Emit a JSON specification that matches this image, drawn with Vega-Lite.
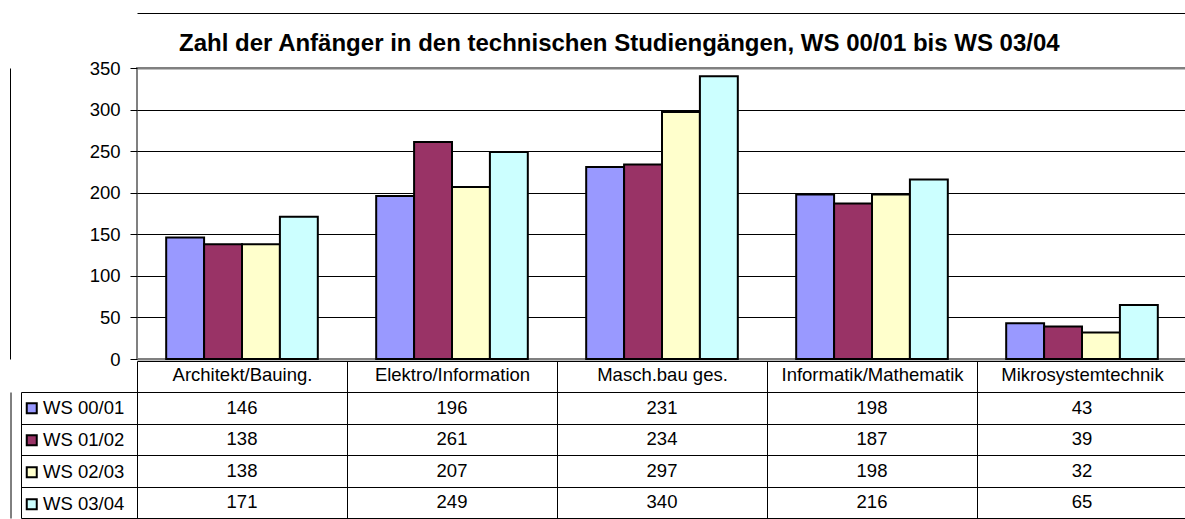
{
  "$schema": "https://vega.github.io/schema/vega-lite/v6.json",
  "autosize": {"type": "pad"},
  "padding": {"left": 9, "top": 12, "right": 0, "bottom": 2},
  "background": "white",
  "bounds": "flush",
  "spacing": 33,
  "config": {
    "font": "Liberation Sans",
    "view": {"stroke": null},
    "axis": {"labelFont": "Liberation Sans", "labelColor": "black"},
    "legend": {"labelFont": "Liberation Sans"}
  },
  "data": {
    "values": [
      {"cat": "Architekt/Bauing.", "series": "WS 00/01", "value": 146},
      {"cat": "Architekt/Bauing.", "series": "WS 01/02", "value": 138},
      {"cat": "Architekt/Bauing.", "series": "WS 02/03", "value": 138},
      {"cat": "Architekt/Bauing.", "series": "WS 03/04", "value": 171},
      {"cat": "Elektro/Information", "series": "WS 00/01", "value": 196},
      {"cat": "Elektro/Information", "series": "WS 01/02", "value": 261},
      {"cat": "Elektro/Information", "series": "WS 02/03", "value": 207},
      {"cat": "Elektro/Information", "series": "WS 03/04", "value": 249},
      {"cat": "Masch.bau ges.", "series": "WS 00/01", "value": 231},
      {"cat": "Masch.bau ges.", "series": "WS 01/02", "value": 234},
      {"cat": "Masch.bau ges.", "series": "WS 02/03", "value": 297},
      {"cat": "Masch.bau ges.", "series": "WS 03/04", "value": 340},
      {"cat": "Informatik/Mathematik", "series": "WS 00/01", "value": 198},
      {"cat": "Informatik/Mathematik", "series": "WS 01/02", "value": 187},
      {"cat": "Informatik/Mathematik", "series": "WS 02/03", "value": 198},
      {"cat": "Informatik/Mathematik", "series": "WS 03/04", "value": 216},
      {"cat": "Mikrosystemtechnik", "series": "WS 00/01", "value": 43},
      {"cat": "Mikrosystemtechnik", "series": "WS 01/02", "value": 39},
      {"cat": "Mikrosystemtechnik", "series": "WS 02/03", "value": 32},
      {"cat": "Mikrosystemtechnik", "series": "WS 03/04", "value": 65}
    ]
  },
  "vconcat": [
    {
      "width": 1050,
      "height": 291,
      "view": {"stroke": "#808080", "strokeWidth": 2},
      "title": {
        "text": "Zahl der Anfänger in den technischen Studiengängen, WS 00/01 bis WS 03/04",
        "font": "Liberation Sans",
        "fontSize": 24,
        "fontWeight": "bold",
        "color": "black",
        "anchor": "start",
        "frame": "group",
        "dx": 42,
        "baseline": "alphabetic",
        "offset": -62
      },
      "layer": [
        {
          "mark": {"type": "bar", "stroke": "black", "strokeWidth": 2},
          "encoding": {
            "x": {
              "field": "cat", "type": "nominal",
              "sort": ["Architekt/Bauing.", "Elektro/Information", "Masch.bau ges.", "Informatik/Mathematik", "Mikrosystemtechnik"],
              "scale": {"paddingInner": 0, "paddingOuter": 0},
              "axis": {"orient": "bottom", "offset": 2, "labels": false, "ticks": false, "title": null, "domainColor": "black", "domainWidth": 1}
            },
            "xOffset": {
              "field": "series", "type": "nominal",
              "sort": ["WS 00/01", "WS 01/02", "WS 02/03", "WS 03/04"],
              "scale": {"paddingInner": 0, "paddingOuter": 0.77}
            },
            "y": {
              "field": "value", "type": "quantitative",
              "scale": {"domain": [0, 350], "nice": false},
              "axis": {
                "values": [0, 50, 100, 150, 200, 250, 300, 350],
                "title": null, "domain": false,
                "tickSize": 7, "tickColor": "black", "tickWidth": 1,
                "labelFontSize": 18.5, "labelPadding": 10,
                "grid": true,
                "gridColor": {"condition": {"test": "datum.value === 0 || datum.value === 350", "value": "#808080"}, "value": "black"},
                "gridWidth": {"condition": {"test": "datum.value === 0 || datum.value === 350", "value": 2}, "value": 1}
              }
            },
            "color": {
              "field": "series", "type": "nominal",
              "scale": {"domain": ["WS 00/01", "WS 01/02", "WS 02/03", "WS 03/04"], "range": ["#9999FF", "#993366", "#FFFFCC", "#CCFFFF"]},
              "legend": {
                "orient": "none", "legendX": -114.5, "legendY": 331,
                "title": null, "symbolType": "square", "symbolSize": 100,
                "symbolStrokeColor": "black", "symbolStrokeWidth": 2,
                "labelFontSize": 18.5, "labelColor": "black", "labelOffset": 2,
                "rowPadding": 13, "padding": 0
              }
            }
          }
        },
        {
          "mark": {"type": "rule", "opacity": 0},
          "encoding": {
            "x": {
              "field": "cat", "type": "nominal",
              "sort": ["Architekt/Bauing.", "Elektro/Information", "Masch.bau ges.", "Informatik/Mathematik", "Mikrosystemtechnik"],
              "axis": {"orient": "top", "offset": 55, "labels": false, "ticks": false, "title": null, "domainColor": "black", "domainWidth": 1}
            },
            "y": {
              "field": "value", "type": "quantitative",
              "axis": {"orient": "left", "offset": 127, "labels": false, "ticks": false, "grid": false, "title": null, "domainColor": "black", "domainWidth": 1}
            }
          }
        }
      ],
      "resolve": {"axis": {"x": "independent", "y": "independent"}}
    },
    {
      "width": 1050,
      "height": 126,
      "view": {"stroke": "black", "strokeWidth": 1},
      "layer": [
        {
          "mark": {"type": "text", "fontSize": 18.5, "color": "black", "font": "Liberation Sans"},
          "encoding": {
            "x": {
              "field": "cat", "type": "nominal",
              "sort": ["Architekt/Bauing.", "Elektro/Information", "Masch.bau ges.", "Informatik/Mathematik", "Mikrosystemtechnik"],
              "scale": {"paddingInner": 0, "paddingOuter": 0},
              "axis": {
                "orient": "top", "title": null, "labelAngle": 0, "labelFontSize": 18.5,
                "labelBaseline": "middle", "labelPadding": -13, "labelLimit": 0,
                "tickBand": "extent", "tickSize": 31, "tickColor": "black",
                "grid": true, "gridColor": "black", "gridOpacity": 1, "domain": false
              }
            },
            "y": {
              "field": "series", "type": "nominal",
              "sort": ["WS 00/01", "WS 01/02", "WS 02/03", "WS 03/04"],
              "scale": {"paddingInner": 0, "paddingOuter": 0},
              "axis": {
                "orient": "left", "offset": 116, "tickSize": -116, "tickBand": "extent",
                "labels": false, "title": null, "grid": true, "gridColor": "black", "gridOpacity": 1,
                "tickColor": "black", "domainColor": "black"
              }
            },
            "text": {"field": "value", "type": "quantitative"}
          }
        },
        {
          "mark": {"type": "rule", "opacity": 0},
          "encoding": {
            "x": {
              "field": "cat", "type": "nominal",
              "sort": ["Architekt/Bauing.", "Elektro/Information", "Masch.bau ges.", "Informatik/Mathematik", "Mikrosystemtechnik"],
              "axis": {"orient": "bottom", "labels": false, "ticks": false, "domain": false, "grid": false, "title": null}
            },
            "y": {
              "field": "value", "type": "quantitative",
              "axis": {"orient": "left", "offset": 126.5, "labels": false, "ticks": false, "grid": false, "title": null, "domainColor": "black", "domainWidth": 1}
            }
          }
        }
      ],
      "resolve": {"scale": {"y": "independent"}, "axis": {"x": "independent", "y": "independent"}}
    }
  ]
}
